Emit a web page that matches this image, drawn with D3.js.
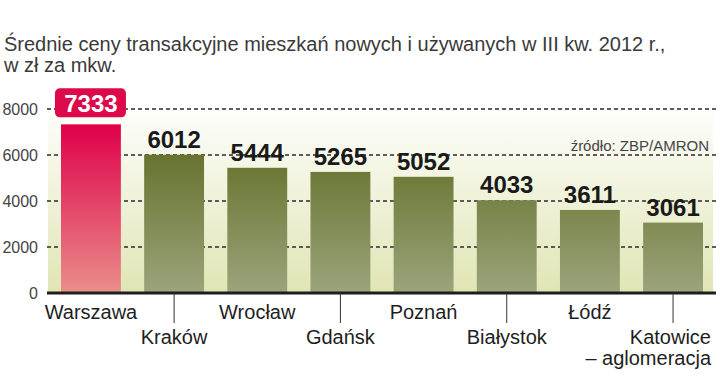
<!DOCTYPE html>
<html><head><meta charset="utf-8">
<script src="https://cdn.jsdelivr.net/npm/d3@7"></script>
<style>html,body{margin:0;padding:0;background:#fff;}svg{display:block;}</style>
</head><body>
<svg id="c" width="720" height="392"></svg>
<script>
const categories = ["Warszawa","Kraków","Wrocław","Gdańsk","Poznań","Białystok","Łódź","Katowice – aglomeracja"];
const values = [7333,6012,5444,5265,5052,4033,3611,3061];
const yTicks = [0,2000,4000,6000,8000];
const titleLines = ["Średnie ceny transakcyjne mieszkań nowych i używanych w III kw. 2012 r.,","w zł za mkw."];
const sourceText = "źródło: ZBP/AMRON";

const svg = d3.select("#c");
const FONT = "'Liberation Sans', Arial, sans-serif";
const x = d3.scaleBand().domain(categories).range([61,703]).paddingInner(0.28).paddingOuter(0);
const y = d3.scaleLinear().domain([0,8000]).range([293,109]);

const defs = svg.append("defs");
function grad(id, top, bottom, y1, y2){
  const g = defs.append("linearGradient").attr("id",id).attr("gradientUnits","userSpaceOnUse")
    .attr("x1",0).attr("x2",0).attr("y1",y1).attr("y2",y2);
  g.append("stop").attr("offset",0).attr("stop-color",top);
  g.append("stop").attr("offset",1).attr("stop-color",bottom);
}
grad("bg","#ffffff","#e0e5b4",100,293);
grad("green","#67732e","#9ba47c",y(6012),293);
grad("red","#df004a","#e98e8a",y(7333),293);

// background
svg.append("rect").attr("x",48).attr("y",96).attr("width",665).attr("height",197).attr("fill","url(#bg)");

// title
svg.append("g").selectAll("text").data(titleLines).join("text")
  .attr("x",4).attr("y",(d,i)=>51+i*21)
  .attr("font-family",FONT).attr("font-size",20).attr("fill","#3a3a3a")
  .text(d=>d);

// gridlines
svg.append("g").selectAll("line").data(yTicks.filter(d=>d>0)).join("line")
  .attr("x1",47).attr("x2",716).attr("y1",d=>y(d)).attr("y2",d=>y(d))
  .attr("stroke","#2a2a2a").attr("stroke-width",1.4).attr("stroke-dasharray","4,3");

// y labels
svg.append("g").selectAll("text").data(yTicks).join("text")
  .attr("x",38).attr("y",d=>y(d)+6).attr("text-anchor","end")
  .attr("font-family",FONT).attr("font-size",16).attr("fill","#444")
  .text(d=>d);

// source
svg.append("text").attr("x",709).attr("y",151).attr("text-anchor","end")
  .attr("font-family",FONT).attr("font-size",15).attr("fill","#444").text(sourceText);

// bars
svg.append("g").selectAll("rect").data(values).join("rect")
  .attr("x",(d,i)=>x(categories[i])).attr("width",x.bandwidth())
  .attr("y",d=>y(d)).attr("height",d=>y(0)-y(d))
  .attr("fill",(d,i)=>i===0?"url(#red)":"url(#green)");

// value labels
const vl = svg.append("g");
values.forEach((v,i)=>{
  const cx = x(categories[i]) + x.bandwidth()/2;
  if(i===0){
    vl.append("rect").attr("x",cx-36).attr("y",y(v)-36).attr("width",71).attr("height",29)
      .attr("rx",5).attr("fill","#dc0a4a");
    vl.append("text").attr("x",cx).attr("y",y(v)-12).attr("text-anchor","middle")
      .attr("font-family",FONT).attr("font-weight","bold").attr("font-size",24).attr("fill","#fff").text(v);
  } else {
    vl.append("text").attr("x",cx).attr("y",y(v)-7).attr("text-anchor","middle")
      .attr("font-family",FONT).attr("font-weight","bold").attr("font-size",24).attr("fill","#1a1a1a").text(v);
  }
});

// baseline
svg.append("line").attr("x1",47).attr("x2",716).attr("y1",y(0)).attr("y2",y(0))
  .attr("stroke","#1e1e1e").attr("stroke-width",3);

// ticks for second-row labels
svg.append("g").selectAll("line").data(categories.filter((d,i)=>i%2===1)).join("line")
  .attr("x1",d=>x(d)+x.bandwidth()/2).attr("x2",d=>x(d)+x.bandwidth()/2)
  .attr("y1",y(0)).attr("y2",323).attr("stroke","#333").attr("stroke-width",1);

// category labels
const cl = svg.append("g").attr("font-family",FONT).attr("font-size",20).attr("fill","#1e1e1e");
categories.forEach((c,i)=>{
  const cx = x(c) + x.bandwidth()/2;
  const base = i%2===0 ? 319 : 344;
  const parts = c.split(" – ");
  if(parts.length>1){
    cl.append("text").attr("text-anchor","end").attr("x",711).attr("y",base).text(parts[0]);
    cl.append("text").attr("text-anchor","end").attr("x",711).attr("y",base+21).text("– "+parts[1]);
  } else {
    cl.append("text").attr("x",cx).attr("y",base).attr("text-anchor","middle").text(c);
  }
});
</script>
</body></html>
